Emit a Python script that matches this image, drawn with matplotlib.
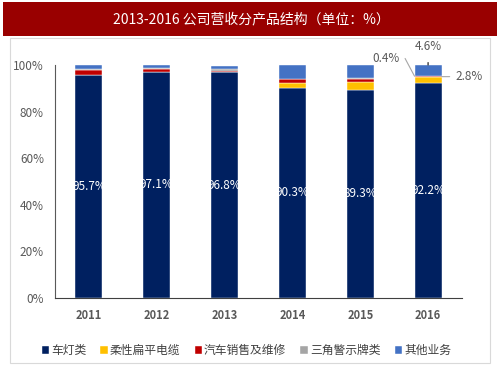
import numpy as np
import matplotlib.pyplot as plt
from matplotlib.patches import Rectangle

plt.rcParams['font.family'] = ['Noto Sans CJK SC', 'DejaVu Sans']

# data (% of revenue)
years = ['2011', '2012', '2013', '2014', '2015', '2016']
lamps = [95.7, 97.1, 96.8, 90.3, 89.3, 92.2]
cable = [0.0, 0.0, 0.0, 2.0, 3.5, 2.8]
auto_repair = [2.3, 1.3, 0.8, 1.5, 1.1, 0.4]
triangle = [0.2, 0.4, 0.6, 0.1, 0.5, 0.0]
other = [1.8, 1.2, 1.4, 6.1, 5.6, 4.6]

names = ['车灯类', '柔性扁平电缆', '汽车销售及维修', '三角警示牌类', '其他业务']
colors = ['#002060', '#FFC000', '#C00000', '#A5A5A5', '#4472C4']
series = [lamps, cable, auto_repair, triangle, other]

fig = plt.figure(figsize=(5.03, 3.78), dpi=100)

# outer frame and title bar
fig.patches.append(Rectangle((10/503, 1-363/378), 480/503, 325/378, transform=fig.transFigure,
                             fill=False, edgecolor='#D9D9D9', lw=0.8))
fig.patches.append(Rectangle((3/503, 1-36/378), 494/503, 34/378, transform=fig.transFigure,
                             facecolor='#990000', edgecolor='none'))
fig.text(0.5, 1-19/378, '2013-2016 公司营收分产品结构（单位：%）', color='white',
         ha='center', va='center', fontsize=10)

ax = fig.add_axes([55/503, 1-298/378, 407/503, 233/378])
x = np.arange(len(years))
bottom = np.zeros(len(years))
for vals, c, n in zip(series, colors, names):
    ax.bar(x, vals, 0.4, bottom=bottom, color=c, label=n, edgecolor='white', linewidth=0.3)
    bottom += np.array(vals)

for i, v in enumerate(lamps):
    ax.text(x[i], v / 2, f'{v}%', color='white', ha='center', va='center', fontsize=8.5)

# 2016 callouts
i = 5
lab_col = '#595959'
y_red = lamps[i] + cable[i] + auto_repair[i] / 2
y_yel = lamps[i] + cable[i]
ax.annotate(f'{auto_repair[i]}%', xy=(x[i] - 0.2, y_red), xytext=(x[i] - 0.42, 103),
            color=lab_col, fontsize=8.5, ha='right', va='center', annotation_clip=False,
            arrowprops=dict(arrowstyle='-', color='#A6A6A6', lw=0.8, shrinkA=2, shrinkB=0,
                            connectionstyle='angle,angleA=0,angleB=118,rad=0'))
ax.annotate(f'{other[i]}%', xy=(x[i], 100), xytext=(x[i], 108),
            color=lab_col, fontsize=8.5, ha='center', va='center', annotation_clip=False,
            arrowprops=dict(arrowstyle='-', color='#262626', lw=0.9, shrinkB=0, shrinkA=5))
ax.annotate(f'{cable[i]}%', xy=(x[i] + 0.2, y_yel), xytext=(x[i] + 0.4, y_yel),
            color=lab_col, fontsize=8.5, ha='left', va='center', annotation_clip=False,
            arrowprops=dict(arrowstyle='-', color='#A6A6A6', lw=0.8, shrinkA=2, shrinkB=0))

ax.set_xlim(-0.5, 5.5)
ax.set_ylim(0, 100)
ax.set_xticks(x)
ax.set_xticklabels(years, color='#595959', fontsize=8, fontweight='bold')
ax.set_yticks(np.arange(0, 101, 20))
ax.set_yticklabels([f'{t}%' for t in range(0, 101, 20)], color='#595959', fontsize=8.5)
ax.tick_params(length=0, pad=8)
ax.spines['top'].set_visible(False)
ax.spines['right'].set_visible(False)
ax.spines['left'].set_color('#595959')
ax.spines['bottom'].set_color('#404040')

ax.legend(loc='center', bbox_to_anchor=(0.47, -0.225), ncol=5, frameon=False,
          fontsize=8.5, handlelength=0.6, handleheight=0.6, handletextpad=0.2,
          columnspacing=1.2, labelcolor='#404040')

fig.savefig('out.png', dpi=100)
